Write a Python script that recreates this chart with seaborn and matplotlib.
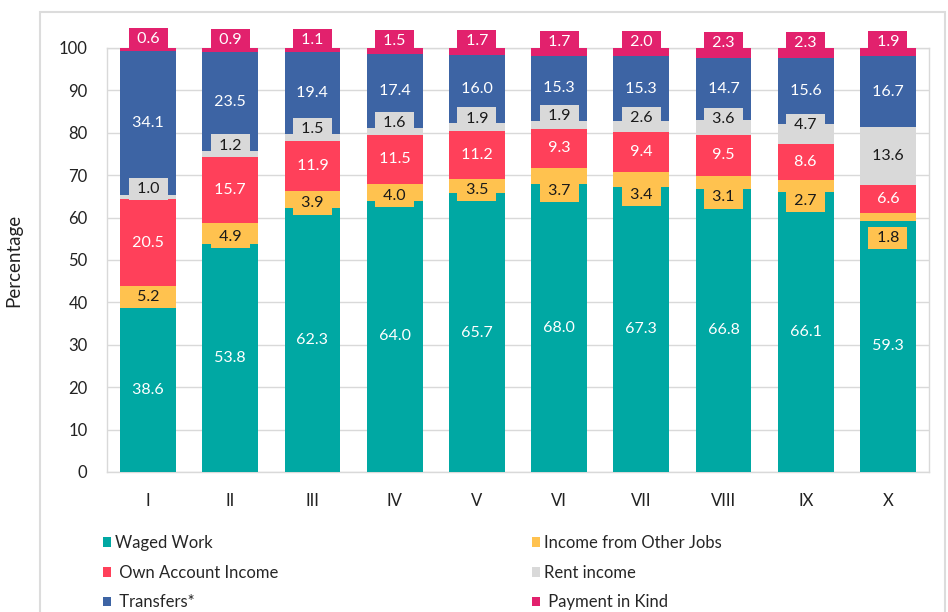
import numpy as np
import pandas as pd
import seaborn as sns
import matplotlib.pyplot as plt
from matplotlib.patches import Patch, Rectangle

# 十分位组和各收入来源占比（%），从图上读的
deciles = ["I", "II", "III", "IV", "V", "VI", "VII", "VIII", "IX", "X"]
waged_work = [38.6, 53.8, 62.3, 64.0, 65.7, 68.0, 67.3, 66.8, 66.1, 59.3]
other_jobs = [5.2, 4.9, 3.9, 4.0, 3.5, 3.7, 3.4, 3.1, 2.7, 1.8]
own_account = [20.5, 15.7, 11.9, 11.5, 11.2, 9.3, 9.4, 9.5, 8.6, 6.6]
rent_income = [1.0, 1.2, 1.5, 1.6, 1.9, 1.9, 2.6, 3.6, 4.7, 13.6]
transfers = [34.1, 23.5, 19.4, 17.4, 16.0, 15.3, 15.3, 14.7, 15.6, 16.7]
payment_kind = [0.6, 0.9, 1.1, 1.5, 1.7, 1.7, 2.0, 2.3, 2.3, 1.9]

series_names = ["Waged Work", "Income from Other Jobs", "Own Account Income",
                "Rent income", "Transfers*", "Payment in Kind"]
legend_labels = ["Waged Work", "Income from Other Jobs", " Own Account Income",
                 "Rent income", " Transfers*", " Payment in Kind"]
series_values = [waged_work, other_jobs, own_account, rent_income, transfers, payment_kind]
colors = ["#00A8A3", "#FFC24F", "#FF405A", "#D9D9D9", "#3D64A4", "#E2216D"]
text_colors = ["white", "#1a1a1a", "white", "#1a1a1a", "white", "white"]

sns.set_theme(style="white")
plt.rcParams["font.family"] = ["Lato", "DejaVu Sans"]

fig = plt.figure(figsize=(9.48, 6.12), dpi=100)
ax = fig.add_axes([107 / 948, 140 / 612, 822 / 948, 424 / 612])

df = pd.DataFrame({"decile": deciles})
bottom = np.zeros(len(deciles))
for name, vals, col in zip(series_names, series_values, colors):
    df[name] = vals
    # saturation=1，不然 seaborn 会把颜色调灰
    sns.barplot(data=df, x="decile", y=name, bottom=bottom, color=col, saturation=1,
                width=0.68, linewidth=0, errorbar=None, ax=ax, zorder=3)
    bottom = bottom + np.array(vals)

# 数据标签：小段的标签挪一挪，跟原图差不多
bottom = np.zeros(len(deciles))
for k, (vals, col, tc) in enumerate(zip(series_values, colors, text_colors)):
    for i, v in enumerate(vals):
        y = bottom[i] + v / 2
        if k == 1 and v < 5:
            y -= 0.9 if own_account[i] >= 10 else 3.6 + max(0, 8 - own_account[i])
        elif k == 3 and v < 5:
            y += 2.0
        elif k == 5:
            y += 2.4
        ax.text(i, y, f" {v:.1f} ", ha="center", va="center", fontsize=11.5,
                color=tc, zorder=5,
                bbox=dict(boxstyle="square,pad=0.26", facecolor=col, edgecolor="none"))
    bottom = bottom + np.array(vals)

ax.set_ylim(0, 100)
ax.set_xlim(-0.5, 9.5)
ax.set_yticks(range(0, 101, 10))
ax.yaxis.grid(True, color="#d9d9d9", linewidth=1, zorder=0)
ax.xaxis.grid(False)
for s in ax.spines.values():
    s.set_visible(True)
    s.set_color("#d9d9d9")
    s.set_linewidth(1)
ax.tick_params(axis="y", length=0, pad=14, labelsize=12, labelcolor="#222222")
ax.tick_params(axis="x", length=0, pad=15, labelsize=12, labelcolor="#222222")
ax.set_xlabel("")
ax.set_ylabel("Percentage", fontsize=13.5, color="#222222")
ax.yaxis.set_label_coords(-0.103, 0.5)

handles = [Patch(facecolor=c, edgecolor="none") for c in colors]
leg_kw = dict(loc="upper left", frameon=False, fontsize=12, borderpad=0, borderaxespad=0,
              handlelength=0.5, handleheight=0.5, handletextpad=0.2, labelspacing=0.82)
leg1 = fig.legend([handles[0], handles[2], handles[4]],
                  [legend_labels[0], legend_labels[2], legend_labels[4]],
                  bbox_to_anchor=(103 / 948, 77 / 612), **leg_kw)
leg2 = fig.legend([handles[1], handles[3], handles[5]],
                  [legend_labels[1], legend_labels[3], legend_labels[5]],
                  bbox_to_anchor=(532 / 948, 77 / 612), **leg_kw)

# 外面那圈浅灰色的框
fig.patches.append(Rectangle((40 / 948, -0.05), 905 / 948, 1.05 - 12 / 612,
                             transform=fig.transFigure, facecolor="none",
                             edgecolor="#dcdcdc", linewidth=1.5))

fig.savefig("out.png", dpi=100)
